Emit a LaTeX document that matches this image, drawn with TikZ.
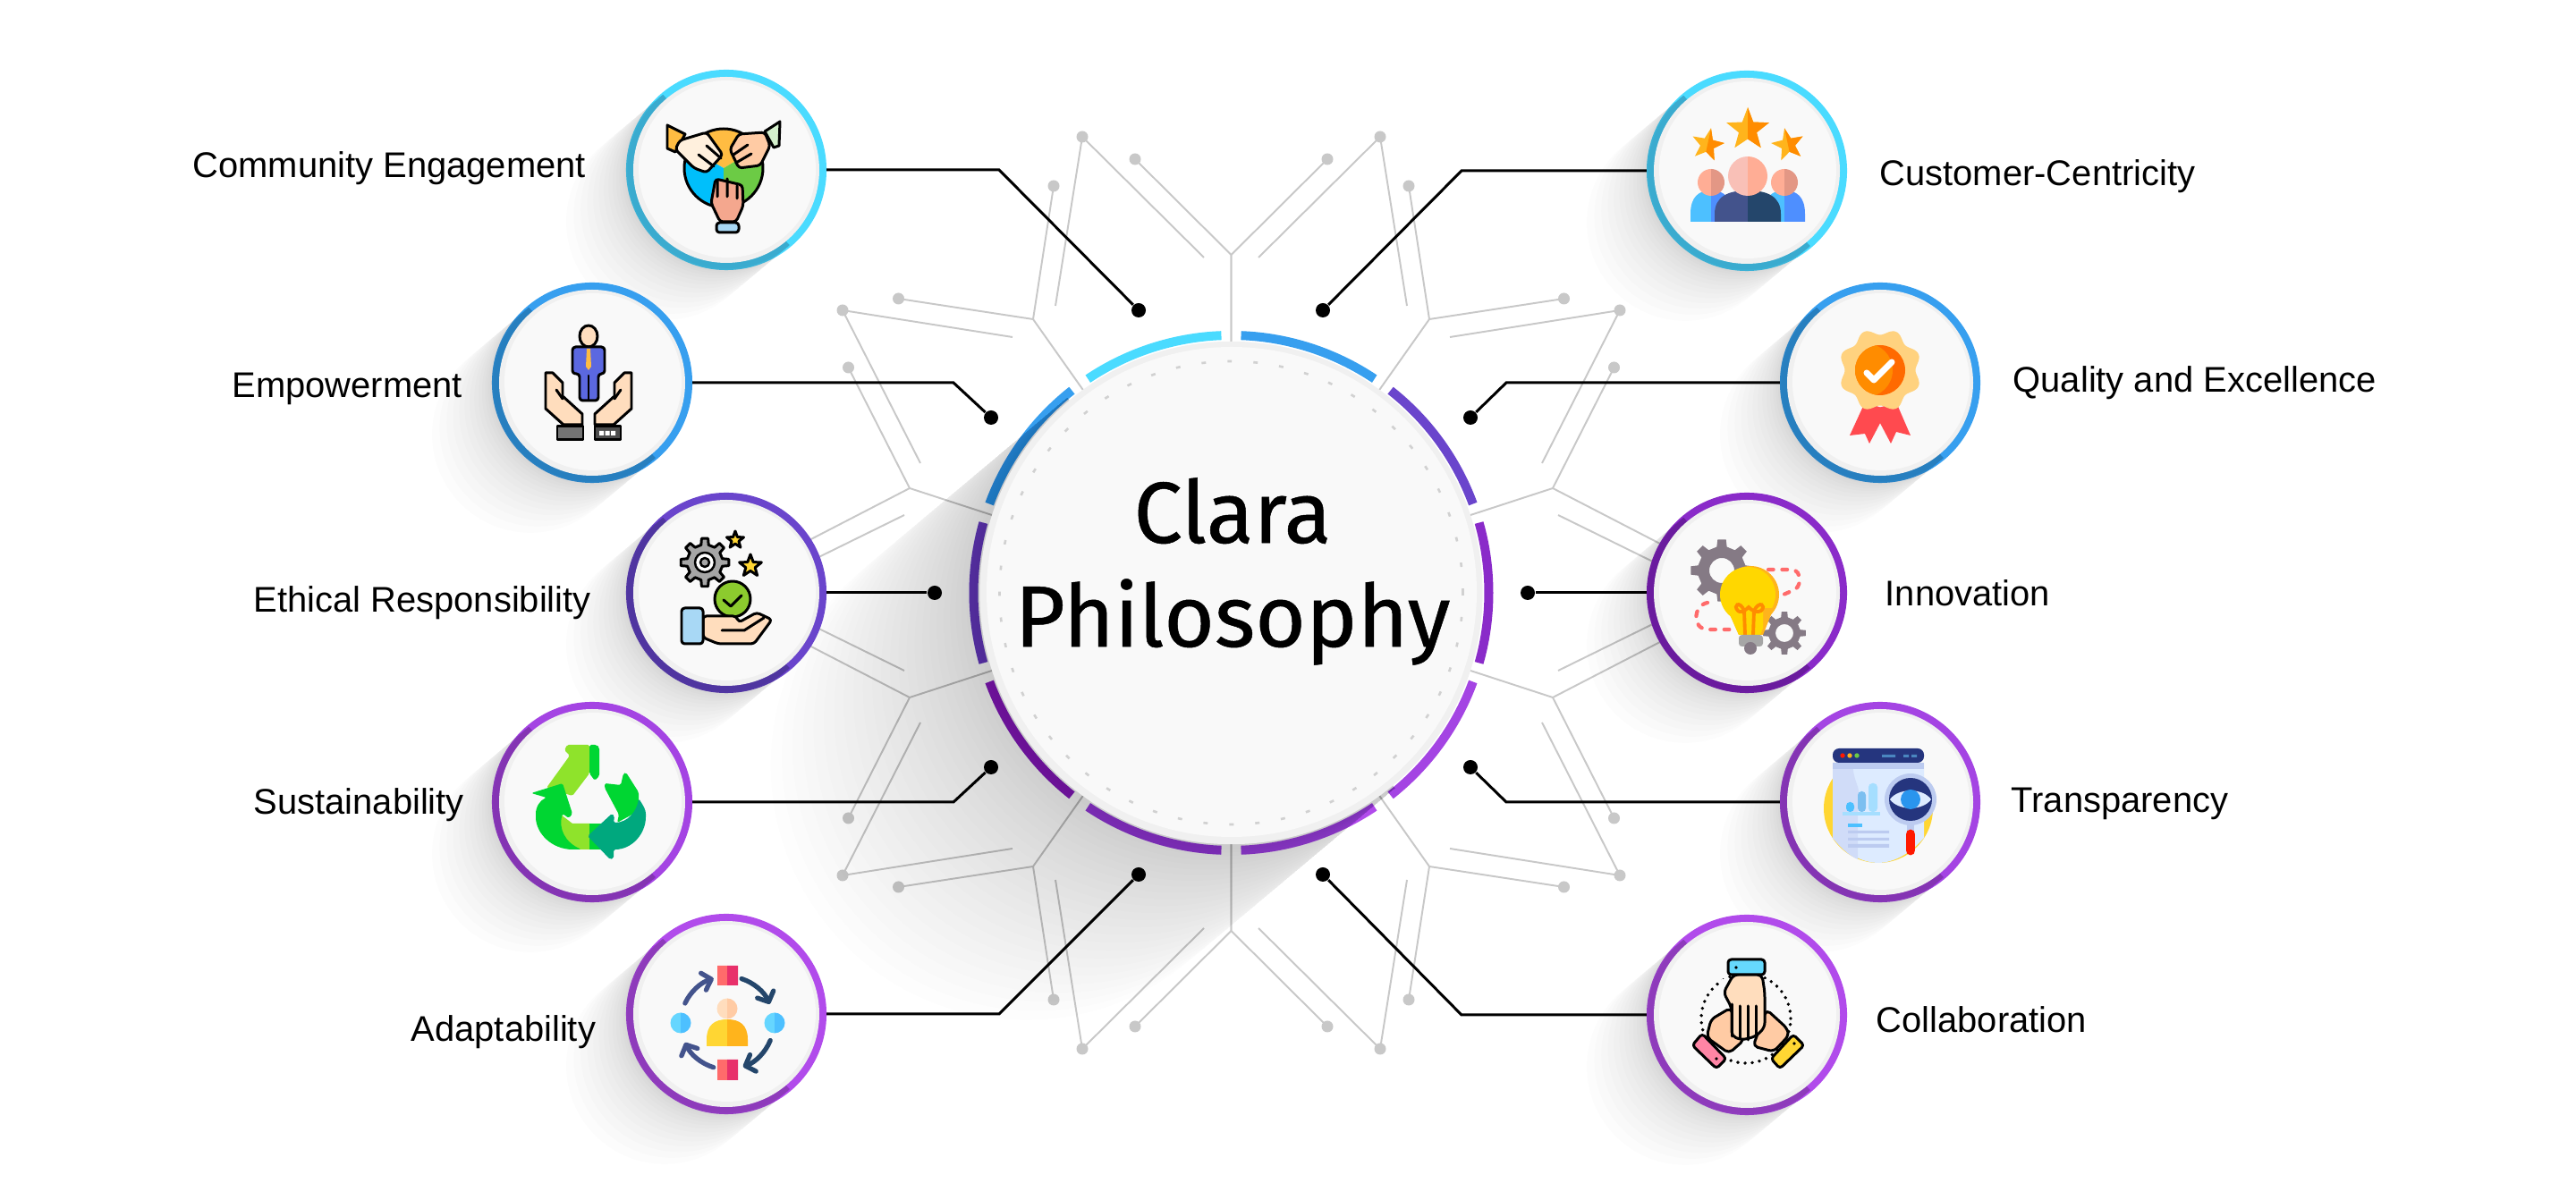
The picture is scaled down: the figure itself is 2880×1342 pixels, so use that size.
\documentclass[tikz,border=0pt]{standalone}
\usepackage{fontspec}
\setmainfont{Liberation Sans}
\newfontfamily\titlefont[FakeBold=0.5]{Fira Sans}
\usetikzlibrary{arrows.meta}
\definecolor{cyanring}{HTML}{4ADBFF}
\definecolor{bluering}{HTML}{379FEF}
\definecolor{violetring}{HTML}{6A45CC}
\definecolor{purplering}{HTML}{8A2BC9}
\definecolor{orchidring}{HTML}{A444E3}
\definecolor{mauvering}{HTML}{B14BEB}
\definecolor{guidegray}{HTML}{C8C8C8}
\tikzset{
  leader/.style     = {line width=0.85pt, line join=miter},
  node dot/.style   = {circle, fill=black, inner sep=0pt, minimum size=0.16cm},
  guide/.style      = {line width=0.55pt, guidegray},
  guide dot/.style  = {fill=guidegray},
  hub arc/.style    = {line width=2.85pt},
  bubble ring/.style= {circle, inner sep=0pt, outer sep=0pt, minimum size=2.24cm},
  hub disc/.style   = {circle, inner sep=0pt, outer sep=0pt, minimum size=5.62cm, fill=black!6},
  label/.style      = {font=\fontsize{11.35}{13}\selectfont, anchor=base west, inner sep=0pt},
  icon line/.style  = {draw=black, line width=0.85pt, line join=round, line cap=round},
  icon thin/.style  = {draw=black, line width=0.7pt, line join=round, line cap=round},
}
\newcommand{\longshadow}[7]{
  \begin{scope}[shift={(#1,#2)},rotate=220]
    \foreach \k in {1,...,#5}
      \fill[black,opacity=#6] (0,-#3) -- ({#4*(\k/#5)^#7},-#3) arc[start angle=-90,end angle=90,radius=#3] -- (0,#3) -- cycle;
  \end{scope}
}
\newcommand{\bubble}[4]{
  \node[bubble ring,fill=#4] (#1) at (#2,#3) {};
  \longshadow{#2}{#3}{110}{90}{16}{.0115}{2}
  \fill[black!6] (#2,#3) circle[radius=104];
  \fill[black!2.5] ({#2+1},{#3+1}) circle[radius=99];
}
\newcommand{\starpath}{(90:1) -- (126:.42) -- (162:1) -- (198:.42) -- (234:1) -- (270:.42) -- (306:1) -- (342:.42) -- (18:1) -- (54:.42) -- cycle}
\newcommand{\halfstar}[6]{
  \begin{scope}[shift={(#1,#2)},rotate=#4,scale=#3]
    \fill[#5] \starpath;
    \clip \starpath;
    \fill[#6] (0,-1.2) rectangle (1.2,1.2);
  \end{scope}
}
\newcommand{\duocircle}[5]{
  \fill[#4] (#1,#2) -- +(90:#3) arc[start angle=90,end angle=270,radius=#3] -- cycle;
  \fill[#5] (#1,#2) -- +(90:#3) arc[start angle=90,end angle=-90,radius=#3] -- cycle;
}
\newcommand{\duodome}[6]{
  \fill[#5] (#1,#2) -- ({#1-#3},#2) -- ({#1-#3},{#2+.25*(#4-#2)}) .. controls ({#1-#3},{#2+.8*(#4-#2)}) and ({#1-.6*#3},#4) .. (#1,#4) -- cycle;
  \fill[#6] (#1,#2) -- ({#1+#3},#2) -- ({#1+#3},{#2+.25*(#4-#2)}) .. controls ({#1+#3},{#2+.8*(#4-#2)}) and ({#1+.6*#3},#4) .. (#1,#4) -- cycle;
}
\newcommand{\gearpath}[3]{({360/#1-97.2/#1}:#3) \foreach \k in {1,...,#1} { -- ({\k*360/#1-97.2/#1}:#3) -- ({\k*360/#1-61.2/#1}:#2) -- ({\k*360/#1+61.2/#1}:#2) -- ({\k*360/#1+97.2/#1}:#3) } -- cycle}
\newcommand{\iconcommunity}{
  \fill[HTMLgold] (-3,2) -- +(30:44) arc[start angle=30,end angle=150,radius=44] -- cycle;
  \fill[HTMLsky] (-3,2) -- +(150:44) arc[start angle=150,end angle=270,radius=44] -- cycle;
  \fill[HTMLleaf] (-3,2) -- +(270:44) arc[start angle=270,end angle=390,radius=44] -- cycle;
  \draw[icon line] (-3,2) circle[radius=44];
  \draw[icon line,fill=HTMLgold] (-66,50) -- (-46,40) -- (-57,20) -- (-66,24) -- cycle;
  \draw[icon line,fill=HTMLmint] (43,43) -- (60,54) -- (59,27) -- (53,25) -- cycle;
  \draw[icon line,fill=HTMLcream,rounded corners=1pt] (-52,33) -- (-22,42) -- (-4,17) -- (-22,-3) -- (-36,2) -- (-57,23) -- cycle;
  \draw[icon line,fill=HTMLpeach,rounded corners=1pt] (43,42) -- (14,40) -- (4,23) -- (14,2) -- (38,5) -- (49,27) -- cycle;
  \draw[icon line,fill=HTMLsalmon,rounded corners=1pt] (-17,-37) -- (-12,-10) -- (18,-17) -- (19,-40) -- (11,-58) -- (-7,-58) -- cycle;
  \draw[icon line,fill=HTMLpale,rounded corners=1pt] (-11,-59) rectangle (14,-70);
  \draw[icon line] (-22,27) -- (-6,13) (-31,17) -- (-14,4) (24,28) -- (8,17) (28,18) -- (11,8)
    (1,-10) -- (1,-30) (12,-18) -- (12,-32) (-10,-12) -- (-10,-30);
}
\newcommand{\iconempower}{
  \draw[icon line,fill=HTMLskin] (-4,52) ellipse[x radius=10,y radius=12];
  \draw[icon line,fill=HTMLsuit,rounded corners=1pt] (-22,40) -- (14,40) -- (14,10) -- (7,10) -- (7,-20) -- (-14,-20) -- (-14,10) -- (-22,10) -- cycle;
  \fill[HTMLgold] (-6,38) -- (-2,38) -- (-1,18) -- (-4,14) -- (-7,18) -- cycle;
  \draw[icon thin] (-4,8) -- (-4,-20);
  \draw[icon line,fill=HTMLskin] (-52,11) -- (-44,11) -- (-33,0) -- (-33,-15) -- (-11,-35) -- (-11,-47) -- (-32,-47) -- (-52,-29) -- cycle;
  \draw[icon line,fill=HTMLskin] (44,11) -- (36,11) -- (25,0) -- (25,-15) -- (3,-35) -- (3,-47) -- (24,-47) -- (44,-29) -- cycle;
  \draw[icon line] (-40,-8) -- (-33,-18) (32,-8) -- (25,-18);
  \draw[icon line,fill=black!55] (-39,-49) rectangle (-10,-64);
  \draw[icon line,fill=black!70] (3,-49) rectangle (32,-64);
  \fill[white] (8,-54) rectangle (13,-59) (14.5,-54) rectangle (19.5,-59) (21,-54) rectangle (26,-59);
}
\newcommand{\iconethical}{
  \begin{scope}[shift={(-24,34)}]
    \draw[icon line,fill=black!35] \gearpath{8}{27}{20};
    \draw[icon thin,fill=white] (0,0) circle[radius=11];
    \draw[icon thin,fill=black!35] (0,0) circle[radius=5];
  \end{scope}
  \begin{scope}[shift={(10,59)},scale=10]
    \draw[icon line,fill=HTMLsun] \starpath;
  \end{scope}
  \begin{scope}[shift={(27,30)},scale=13]
    \draw[icon line,fill=HTMLsun] \starpath;
  \end{scope}
  \draw[icon line,fill=HTMLlime] (7,-7) circle[radius=20];
  \draw[icon line] (-3,-8) -- (5,-15) -- (17,-3);
  \draw[icon line,fill=HTMLskin,rounded corners=1pt] (-26,-26) -- (11,-26) -- (14,-33) -- (34,-22) -- (51,-30) -- (31,-57) -- (-9,-57) -- (-26,-50) -- cycle;
  \draw[icon line] (-5,-42) -- (20,-42) -- (42,-28);
  \draw[icon line,fill=HTMLpale,rounded corners=1pt] (-50,-17) rectangle (-26,-57);
}
\newcommand{\iconsustain}{
  \fill[HTMLlight,rounded corners=0.5pt] (-51,16) -- (-25,52) -- (-31,58) -- (-28,64) -- (-3,64) -- (-3,32) -- (-22,7) -- cycle;
  \fill[HTMLgreen,rounded corners=0.5pt] (-3,64) -- (5,64) -- (8,61) -- (8,29) -- (3,24) -- (-3,32) -- cycle;
  \fill[HTMLlight] (-35,-14) -- (-22,-24) -- (-3,-24) -- (-3,-53) -- (-12,-53) .. controls (-30,-53) and (-40,-35) .. (-35,-14) -- cycle;
  \fill[HTMLgreen] (-3,-24) -- (18,-24) -- (18,-53) -- (-3,-53) -- cycle;
  \fill[HTMLgreen,rounded corners=0.5pt] (-68,10) -- (-33,21) -- (-22,-13) -- (-26,-18) -- (-33,-13) .. controls (-38,-30) and (-30,-45) .. (-12,-53) -- (-20,-53) .. controls (-45,-53) and (-63,-35) .. (-63,-15) .. controls (-63,-5) and (-58,2) .. (-51,5) -- cycle;
  \fill[HTMLgreen,rounded corners=0.5pt] (14,21) -- (32,19) -- (35,32) -- (38,33) -- (52,11) -- (52,-10) -- (28,-23) -- (30,-14) -- (14,16) -- cycle;
  \fill[HTMLteal,rounded corners=0.5pt] (-5,-38) -- (22,-13) -- (25,-16) -- (24,-23) .. controls (40,-23) and (50,-10) .. (52,4) .. controls (58,-5) and (60,-9) .. (60,-15) .. controls (60,-35) and (45,-53) .. (24,-53) -- (24,-63) -- (20,-64) -- cycle;
}
\newcommand{\iconadapt}{
  \duocircle{1}{6}{11.5}{HTMLskin}{HTMLpeach}
  \duodome{1}{-36}{23}{-6}{HTMLsun}{HTMLamber}
  \fill[HTMLrose] (-10,54) rectangle (1,32) (-10,-51) rectangle (1,-74);
  \fill[HTMLcrimson] (1,54) rectangle (13,32) (1,-51) rectangle (13,-74);
  \duocircle{-51}{-10}{11.5}{HTMLice}{HTMLsea}
  \duocircle{54}{-10}{11.5}{HTMLice}{HTMLsea}
  \begin{scope}[shift={(1,-10)},line width=1.5pt,line cap=round,-{Straight Barb[round,length=2.6pt,width=5.6pt]}]
    \draw[HTMLslate] (155:52) arc[start angle=155,end angle=107,radius=52];
    \draw[HTMLnavy] (72:52) arc[start angle=72,end angle=24,radius=52];
    \draw[HTMLnavy] (-22:52) arc[start angle=-22,end angle=-70,radius=52];
    \draw[HTMLslate] (-107:52) arc[start angle=-107,end angle=-155,radius=52];
  \end{scope}
}
\newcommand{\iconcustomer}{
  \halfstar{1}{46}{25}{0}{HTMLamber}{HTMLorange}
  \halfstar{-44}{29}{19}{-12}{HTMLamber}{HTMLorange}
  \halfstar{46}{29}{19}{12}{HTMLamber}{HTMLorange}
  \duodome{-40}{-57}{23}{-22}{HTMLsea}{HTMLazure}
  \duodome{42}{-57}{23}{-22}{HTMLsea}{HTMLazure}
  \duocircle{-40}{-13}{15}{HTMLflesh}{HTMLclay}
  \duocircle{42}{-13}{15}{HTMLflesh}{HTMLclay}
  \duodome{1}{-57}{37}{-22}{HTMLslate}{HTMLnavy}
  \duocircle{1}{-6}{22}{HTMLblush}{HTMLflesh}
}
\newcommand{\iconquality}{
  \fill[HTMLred] (-17,-22) -- (8,-30) -- (-12,-68) -- (-17,-57) -- (-34,-59) -- cycle;
  \fill[HTMLred] (18,-22) -- (-8,-30) -- (12,-68) -- (18,-55) -- (34,-59) -- cycle;
  \begin{scope}[shift={(0,14)}]
    \fill[HTMLbadge] plot[domain=0:360,samples=145,smooth] (\x+22.5:{43+3.5*cos(8*\x)}) -- cycle;
    \fill[HTMLflame] (0,0) circle[radius=28];
    \begin{scope}
      \clip (0,0) circle[radius=28];
      \fill[HTMLorange] (-16,0) circle[radius=30];
    \end{scope}
  \end{scope}
  \draw[white,line width=2pt,line cap=round,line join=round] (-15,11) -- (-7,3) -- (13,23);
}
\newcommand{\iconinnovation}{
  \begin{scope}[shift={(-28,25)}]
    \fill[HTMLmetal,even odd rule] \gearpath{8}{35}{27} (0,0) circle[radius=14];
  \end{scope}
  \begin{scope}[shift={(42,-45)}]
    \fill[HTMLmetal,even odd rule] \gearpath{8}{24}{18} (0,0) circle[radius=10];
  \end{scope}
  \draw[HTMLcoral,line width=1.2pt,line cap=round,dash pattern=on 1.6pt off 2.8pt] (24,26) -- (50,26) .. controls (62,26) and (62,4) .. (50,2) -- (34,-5);
  \draw[HTMLcoral,line width=1.2pt,line cap=round,dash pattern=on 1.6pt off 2.8pt] (-44,-11) .. controls (-60,-14) and (-62,-40) .. (-44,-41) -- (-13,-41);
  \fill[HTMLamber] (4,-2) circle[radius=32];
  \fill[HTMLamber] (-20,-22) -- (-9,-47) -- (18,-47) -- (28,-22) -- cycle;
  \begin{scope}
    \clip (-30,32) rectangle (18,-50) (18,32) rectangle (36,-17);
    \fill[HTMLyolk] (1,-2) circle[radius=31];
    \fill[HTMLyolk] (-20,-22) -- (-9,-47) -- (15,-47) -- (25,-22) -- cycle;
  \end{scope}
  \draw[HTMLorange,line width=1.1pt] (-2,-47) -- (-3,-20) (7,-47) -- (8,-20);
  \draw[HTMLorange,line width=1.1pt] (-3,-20) .. controls (-8,-8) and (-16,-14) .. (-10,-20) .. controls (-8,-22) and (-4,-22) .. (2,-16) .. controls (8,-22) and (12,-22) .. (16,-20) .. controls (22,-14) and (14,-8) .. (8,-20);
  \fill[black!35,rounded corners=1pt] (-9,-47) rectangle (18,-60);
  \fill[HTMLmetal] (4,-62) circle[radius=7];
}
\newcommand{\icontransparent}{
  \fill[HTMLsun] (-2,-7) circle[radius=61];
  \fill[HTMLmist] (-53,44) -- (49,44) -- (49,-40) .. controls (30,-62) and (10,-68) .. (-2,-68) .. controls (-15,-68) and (-35,-62) .. (-53,-40) -- cycle;
  \fill[HTMLhaze] (-53,44) -- (-30,44) .. controls (-32,25) and (-20,15) .. (-25,5) -- (-25,-64) .. controls (-35,-60) and (-45,-50) .. (-53,-40) -- cycle;
  \fill[HTMLband] (-53,44) rectangle (49,37);
  \fill[HTMLink,rounded corners=2pt] (-53,60) rectangle (49,44);
  \fill[red!80!orange] (-42,52) circle[radius=2.7];
  \fill[HTMLamber] (-34,52) circle[radius=2.7];
  \fill[HTMLleaf] (-26,52) circle[radius=2.7];
  \fill[HTMLsteel] (2,53) rectangle (17,50) (26,53) rectangle (32,50) (35,53) rectangle (41,50);
  \fill[HTMLsea,rounded corners=1.2pt] (-38,-11) rectangle (-29,0);
  \fill[HTMLwave,rounded corners=1.2pt] (-25,-11) rectangle (-16,12);
  \fill[HTMLfoam,rounded corners=1.2pt] (-13,-11) rectangle (-3,21);
  \fill[HTMLfoam] (-42,-11) rectangle (0,-15);
  \fill[HTMLsea] (-36,-24) rectangle (-20,-28);
  \fill[HTMLband] (-36,-32) rectangle (10,-35) (-36,-40) rectangle (10,-43) (-36,-47) rectangle (10,-51);
  \draw[HTMLband,line width=2.2pt] (34,-22) -- (34,-34);
  \draw[red!80!orange,line width=3.1pt,line cap=round] (34,-36) -- (34,-54);
  \fill[HTMLband] (34,3) circle[radius=29];
  \fill[HTMLink] (34,3) circle[radius=24];
  \fill[HTMLmist] (11,3) .. controls (20,16) and (48,16) .. (57,3) .. controls (48,-10) and (20,-10) .. (11,3) -- cycle;
  \fill[HTMLiris] (34,3) circle[radius=11];
}
\newcommand{\iconcollab}{
  \draw[line width=1.1pt,line cap=round,dash pattern=on 0pt off 2.3pt] (-1,-4) circle[radius=50];
  \fill[black!2.5] (-28,40) rectangle (22,10);
  \draw[icon line,fill=HTMLpeach,rounded corners=1.5pt] (-18,8) -- (-40,-5) -- (-45,-25) -- (-20,-43) -- (-3,-28) -- cycle;
  \draw[icon line,fill=HTMLpeach,rounded corners=1.5pt] (22,6) -- (45,-15) -- (47,-23) -- (30,-41) -- (7,-35) -- cycle;
  \draw[icon line,fill=HTMLskin,rounded corners=1.5pt] (-15,45) -- (17,45) -- (20,25) -- (20,-14) -- (10,-24) -- (-5,-28) -- (-17,-24) -- (-17,8) -- (-26,25) -- cycle;
  \draw[icon line] (-17,12) -- (-17,-24) (-8,10) -- (-8,-26) (1,10) -- (1,-28) (10,10) -- (10,-24);
  \draw[icon line,fill=HTMLsky!60,rounded corners=1pt] (-21,62) rectangle (20,45);
  \fill (-12,53) circle[radius=1.8];
  \draw[icon line,fill=HTMLpink,rounded corners=1pt] (-61,-34) -- (-50,-21) -- (-23,-49) -- (-34,-60) -- cycle;
  \fill (-34,-49) circle[radius=1.8];
  \draw[icon line,fill=HTMLsun,rounded corners=1pt] (27,-49) -- (52,-22) -- (64,-34) -- (37,-60) -- cycle;
  \fill (53,-32) circle[radius=1.8];
}
\definecolor{HTMLgold}{HTML}{FFBC42}
\definecolor{HTMLsky}{HTML}{00BFFB}
\definecolor{HTMLleaf}{HTML}{6CCB45}
\definecolor{HTMLmint}{HTML}{D4F0CC}
\definecolor{HTMLcream}{HTML}{FFF0DD}
\definecolor{HTMLpeach}{HTML}{FFCBA4}
\definecolor{HTMLsalmon}{HTML}{F4A78E}
\definecolor{HTMLpale}{HTML}{A8D8F5}
\definecolor{HTMLskin}{HTML}{FFDDBD}
\definecolor{HTMLsuit}{HTML}{5B68E0}
\definecolor{HTMLsun}{HTML}{FFD633}
\definecolor{HTMLlime}{HTML}{8CCB2E}
\definecolor{HTMLlight}{HTML}{8FE32B}
\definecolor{HTMLgreen}{HTML}{00D632}
\definecolor{HTMLteal}{HTML}{00A87E}
\definecolor{HTMLamber}{HTML}{FFB41C}
\definecolor{HTMLrose}{HTML}{FF6B6B}
\definecolor{HTMLcrimson}{HTML}{E8306A}
\definecolor{HTMLice}{HTML}{66D6FF}
\definecolor{HTMLsea}{HTML}{4DC0FF}
\definecolor{HTMLslate}{HTML}{43538C}
\definecolor{HTMLnavy}{HTML}{24466B}
\definecolor{HTMLorange}{HTML}{FF8C00}
\definecolor{HTMLazure}{HTML}{4E8FFF}
\definecolor{HTMLflesh}{HTML}{FFAD95}
\definecolor{HTMLclay}{HTML}{E39785}
\definecolor{HTMLblush}{HTML}{F9C0B7}
\definecolor{HTMLred}{HTML}{FF4A4F}
\definecolor{HTMLbadge}{HTML}{FFD27F}
\definecolor{HTMLflame}{HTML}{FF6A00}
\definecolor{HTMLmetal}{HTML}{857A85}
\definecolor{HTMLcoral}{HTML}{FF6B6B}
\definecolor{HTMLyolk}{HTML}{FFD700}
\definecolor{HTMLmist}{HTML}{DDEBFF}
\definecolor{HTMLhaze}{HTML}{D0DCF8}
\definecolor{HTMLband}{HTML}{BCCBF0}
\definecolor{HTMLink}{HTML}{25357E}
\definecolor{HTMLsteel}{HTML}{4A86C0}
\definecolor{HTMLwave}{HTML}{7CBFF0}
\definecolor{HTMLfoam}{HTML}{A5DEFF}
\definecolor{HTMLiris}{HTML}{2A95EE}
\definecolor{HTMLpink}{HTML}{FF85A5}

\begin{document}
\begin{tikzpicture}[x=0.01cm,y=0.01cm]
  \path[use as bounding box,fill=white] (0,0) rectangle (2880,1342);

  \foreach \sx/\sy in {1/1,-1/1,1/-1,-1/-1} {
    \begin{scope}[shift={(1376.5,679)},xscale=\sx,yscale=\sy]
      \draw[guide] (0,378) -- (0,280) (0,378) -- (-107.5,485);
      \draw[guide] (-30.5,375) -- (-166.5,510) -- (-196.5,321);
      \draw[guide] (-198.5,455) -- (-221.5,306) -- (-372,329);
      \draw[guide] (-221.5,306) -- (-165,226);
      \draw[guide] (-244.5,286) -- (-434.5,316) -- (-347.5,145);
      \draw[guide] (-428,252) -- (-359.5,117) -- (-266,86.5);
      \draw[guide] (-359.5,117) -- (-520,34);
      \draw[guide] (-365.5,87) -- (-520,11);
      \foreach \gx/\gy in {-166.5/510,-107.5/485,-198.5/455,-372/329,-434.5/316,-428/252}
        \fill[guide dot] (\gx,\gy) circle[radius=6.5];
    \end{scope}
  }

  \begin{scope}[shift={(1376.5,679)}]
    \foreach \a/\c in {18/violetring,54/bluering,90/cyanring,126/bluering,162/violetring,198/purplering,234/orchidring,270/mauvering,306/orchidring,342/purplering}
      \draw[hub arc,\c] ({\a+2.2}:288) arc[start angle=\a+2.2,end angle=\a+33.8,radius=288];
  \end{scope}
  \longshadow{1376.5}{679}{285}{300}{26}{.0085}{1.4}
  \node[hub disc] (hub) at (1376.5,679) {};
  \fill[black!2.5] (1377,680) circle[radius=274];
  \draw[black!18,line width=0.75pt,dash pattern=on 1.4pt off 6.85pt] (hub.center) circle[radius=259];
  \node[align=center,inner sep=0pt,font=\titlefont\fontsize{27.6}{33}\selectfont] (title) at (1378,703) {Clara\\Philosophy};

  \bubble{com}{812}{1152}{cyanring}
  \bubble{emp}{662}{914}{bluering}
  \bubble{eth}{812}{679}{violetring}
  \bubble{sus}{662}{445}{orchidring}
  \bubble{ada}{812}{208}{mauvering}
  \bubble{cus}{1953}{1151}{cyanring}
  \bubble{qua}{2102}{914}{bluering}
  \bubble{inn}{1953}{679}{purplering}
  \bubble{tra}{2102}{445}{orchidring}
  \bubble{col}{1953}{207}{mauvering}

  \begin{scope}[shift={(com.center)}] \iconcommunity \end{scope}
  \begin{scope}[shift={(emp.center)}] \iconempower \end{scope}
  \begin{scope}[shift={(eth.center)}] \iconethical \end{scope}
  \begin{scope}[shift={(sus.center)}] \iconsustain \end{scope}
  \begin{scope}[shift={(ada.center)}] \iconadapt \end{scope}
  \begin{scope}[shift={(cus.center)}] \iconcustomer \end{scope}
  \begin{scope}[shift={(qua.center)}] \iconquality \end{scope}
  \begin{scope}[shift={(inn.center)}] \iconinnovation \end{scope}
  \begin{scope}[shift={(tra.center)}] \icontransparent \end{scope}
  \begin{scope}[shift={(col.center)}] \iconcollab \end{scope}

  \node[node dot] (com dot) at (1273,995) {};
  \node[node dot] (emp dot) at (1108,875) {};
  \node[node dot] (eth dot) at (1045,679) {};
  \node[node dot] (sus dot) at (1108,484) {};
  \node[node dot] (ada dot) at (1273,364) {};
  \node[node dot] (cus dot) at (1479,995) {};
  \node[node dot] (qua dot) at (1644,875) {};
  \node[node dot] (inn dot) at (1708,679) {};
  \node[node dot] (tra dot) at (1644,484) {};
  \node[node dot] (col dot) at (1479,364) {};
  \coordinate (com bend) at (1117,1152);
  \coordinate (emp bend) at (1066,914);
  \coordinate (sus bend) at (1066,445);
  \coordinate (ada bend) at (1117,208);
  \coordinate (cus bend) at (1634,1151);
  \coordinate (qua bend) at (1684,914);
  \coordinate (tra bend) at (1684,445);
  \coordinate (col bend) at (1634,207);
  \draw[leader] (com.east) -- (com bend) -- (com dot);
  \draw[leader] (emp.east) -- (emp bend) -- (emp dot);
  \draw[leader] (eth.east) -- (eth dot);
  \draw[leader] (sus.east) -- (sus bend) -- (sus dot);
  \draw[leader] (ada.east) -- (ada bend) -- (ada dot);
  \draw[leader] (cus.west) -- (cus bend) -- (cus dot);
  \draw[leader] (qua.west) -- (qua bend) -- (qua dot);
  \draw[leader] (inn.west) -- (inn dot);
  \draw[leader] (tra.west) -- (tra bend) -- (tra dot);
  \draw[leader] (col.west) -- (col bend) -- (col dot);

  \node[label] (com text) at (215,1143) {Community Engagement};
  \node[label] (emp text) at (259,897) {Empowerment};
  \node[label] (eth text) at (283,657) {Ethical Responsibility};
  \node[label] (sus text) at (283,431) {Sustainability};
  \node[label] (ada text) at (459,177) {Adaptability};
  \node[label] (cus text) at (2101,1134) {Customer-Centricity};
  \node[label] (qua text) at (2250,903) {Quality and Excellence};
  \node[label] (inn text) at (2107,664) {Innovation};
  \node[label] (tra text) at (2248,433) {Transparency};
  \node[label] (col text) at (2097,187) {Collaboration};
\end{tikzpicture}
\end{document}
